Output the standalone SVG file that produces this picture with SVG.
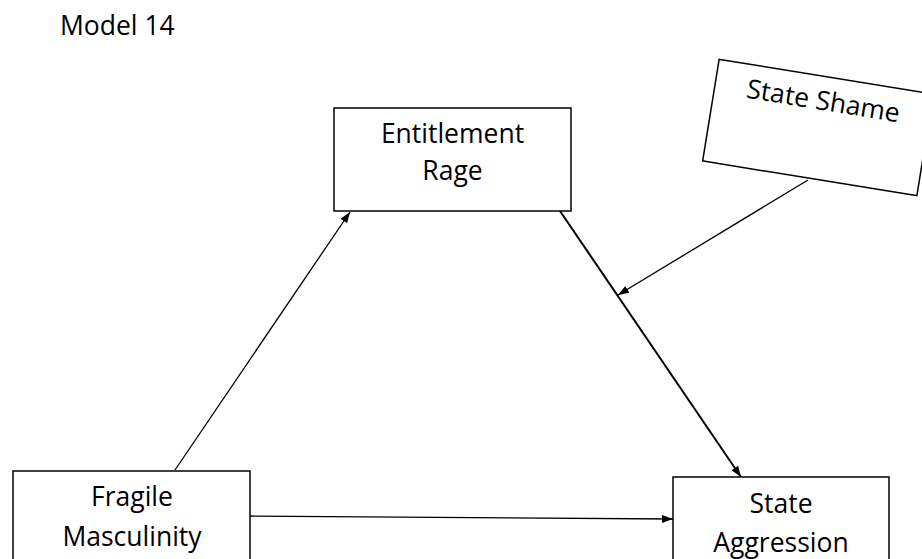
<svg xmlns="http://www.w3.org/2000/svg" width="922" height="559" viewBox="0 0 922 559">
<style>
.box{fill:#fff;stroke:#000;stroke-width:1.5}
.lbl{font-family:"Open Sans","Noto Sans",sans-serif;font-size:26.5px;fill:#000;text-anchor:middle}
.edge{stroke:#000;stroke-width:1.3;fill:none}
</style>
<defs>
<marker id="ah" viewBox="0 0 11 10" refX="11" refY="5" markerWidth="11" markerHeight="10" markerUnits="userSpaceOnUse" orient="auto">
<path d="M0,1 L11,5 L0,9 z" fill="#000"/>
</marker>
</defs>
<rect width="922" height="559" fill="#fff"/>
<text x="60" y="35" class="lbl" style="text-anchor:start">Model 14</text>
<g id="connectors">
<line class="edge" x1="175" y1="470" x2="350" y2="212" marker-end="url(#ah)"/>
<line class="edge" x1="250" y1="516" x2="673" y2="519" marker-end="url(#ah)"/>
<line class="edge" style="stroke-width:2" x1="560" y1="211" x2="741" y2="477" marker-end="url(#ah)"/>
<line class="edge" x1="808" y1="180" x2="618" y2="295" marker-end="url(#ah)"/>
</g>
<g id="entitlement-rage">
<rect class="box" x="334" y="108" width="237" height="103"/>
<text class="lbl" x="452.5" y="143">Entitlement</text>
<text class="lbl" x="452.5" y="180">Rage</text>
</g>
<g id="state-shame" transform="translate(818,127.5) rotate(9.2)">
<rect class="box" x="-108.5" y="-51.5" width="217" height="103"/>
<text class="lbl" x="1" y="-18">State Shame</text>
</g>
<g id="fragile-masculinity">
<rect class="box" x="13" y="471" width="237" height="100"/>
<text class="lbl" x="132" y="506">Fragile</text>
<text class="lbl" x="132" y="546">Masculinity</text>
</g>
<g id="state-aggression">
<rect class="box" x="673" y="477" width="216" height="100"/>
<text class="lbl" x="781" y="513">State</text>
<text class="lbl" x="781" y="552">Aggression</text>
</g>
</svg>
